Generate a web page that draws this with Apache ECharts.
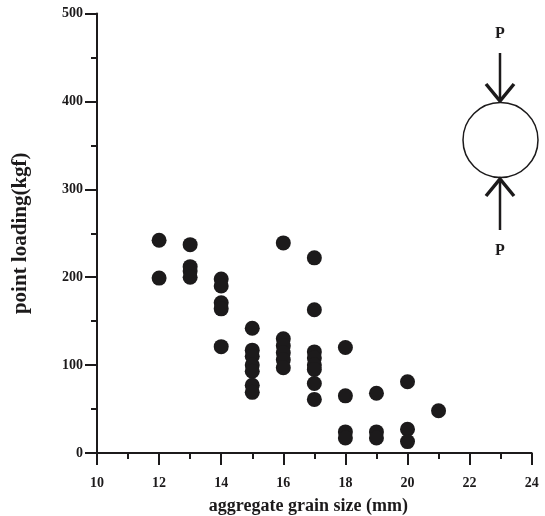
<!DOCTYPE html>
<html><head><meta charset="utf-8">
<script src="https://cdn.jsdelivr.net/npm/echarts@6/dist/echarts.min.js"></script>
<style>html,body{margin:0;padding:0;background:#fff}#c{width:545px;height:516px}</style>
</head><body><div id="c"></div>
<script>
const grainSize = [12,12, 13,13,13,13, 14,14,14,14,14, 15,15,15,15,15,15,15, 16,16,16,16,16,16, 17,17,17,17,17,17,17,17, 18,18,18,18, 19,19,19, 20,20,20, 21];
const pointLoading = [242,199, 237,212,207,200, 198,190,171,164,121, 142,117,110,100,93,77,69, 239,130,122,114,106,97, 222,163,115,108,100,95,79,61, 120,65,24,17, 68,24,17, 81,27,13, 48];
const xTicks = [10,12,14,16,18,20,22,24];
const yTicks = [0,100,200,300,400,500];

const ink = '#1c1a1b';
const serif = '"Liberation Serif","DejaVu Serif",serif';
const chart = echarts.init(document.getElementById('c'));
const gl = 97, gr = 545 - 531.7, gt = 13.5, gb = 516 - 453;
chart.setOption({
  animation: false,
  backgroundColor: '#fff',
  grid: { left: gl, right: gr, top: gt, bottom: gb, containLabel: false, outerBoundsMode: 'none' },
  xAxis: {
    type: 'value', min: 10, max: 24, interval: 2,
    name: 'aggregate grain size (mm)', nameLocation: 'middle', nameGap: 44,
    nameTextStyle: { fontFamily: serif, fontWeight: 'bold', fontSize: 18, color: ink, padding: [0, 12, 0, 0] },
    axisLine: { show: true, onZero: false, lineStyle: { color: ink, width: 2 } },
    axisTick: { show: true, length: 12, lineStyle: { color: ink, width: 2 } },
    minorTick: { show: true, splitNumber: 2, length: 6, lineStyle: { color: ink, width: 2 } },
    axisLabel: { margin: 23, fontFamily: serif, fontWeight: 'bold', fontSize: 14, color: ink,
      formatter: v => xTicks.includes(v) ? String(v) : '' },
    splitLine: { show: false }
  },
  yAxis: {
    type: 'value', min: 0, max: 500, interval: 100,
    name: 'point loading(kgf)', nameLocation: 'middle', nameGap: 66, nameRotate: 90,
    nameTextStyle: { fontFamily: serif, fontWeight: 'bold', fontSize: 21, color: ink },
    axisLine: { show: true, onZero: false, lineStyle: { color: ink, width: 2 } },
    axisTick: { show: true, length: 12, lineStyle: { color: ink, width: 2 } },
    minorTick: { show: true, splitNumber: 2, length: 6, lineStyle: { color: ink, width: 2 } },
    axisLabel: { margin: 14, fontFamily: serif, fontWeight: 'bold', fontSize: 14, color: ink,
      formatter: v => yTicks.includes(v) ? String(v) : '' },
    splitLine: { show: false }
  },
  series: [{
    type: 'scatter',
    data: grainSize.map((x, i) => [x, pointLoading[i]]),
    symbol: 'circle', symbolSize: 15,
    itemStyle: { color: ink, opacity: 1 }
  }],
  graphic: [
    { type: 'text', x: 500, y: 34, style: { text: 'P', font: 'bold 16px ' + serif, fill: ink, align: 'center', verticalAlign: 'middle' } },
    { type: 'line', shape: { x1: 500, y1: 53, x2: 500, y2: 100 }, style: { stroke: ink, lineWidth: 2.5 } },
    { type: 'polyline', shape: { points: [[486, 84], [500, 101], [514, 84]] }, style: { stroke: ink, lineWidth: 3.5, fill: null } },
    { type: 'circle', shape: { cx: 500.5, cy: 140, r: 37.5 }, style: { stroke: ink, lineWidth: 1.5, fill: '#fff' } },
    { type: 'polyline', shape: { points: [[486, 196], [500, 179], [514, 196]] }, style: { stroke: ink, lineWidth: 3.5, fill: null } },
    { type: 'line', shape: { x1: 500, y1: 180, x2: 500, y2: 230 }, style: { stroke: ink, lineWidth: 2.5 } },
    { type: 'text', x: 500, y: 251, style: { text: 'P', font: 'bold 16px ' + serif, fill: ink, align: 'center', verticalAlign: 'middle' } }
  ]
});
</script></body></html>
